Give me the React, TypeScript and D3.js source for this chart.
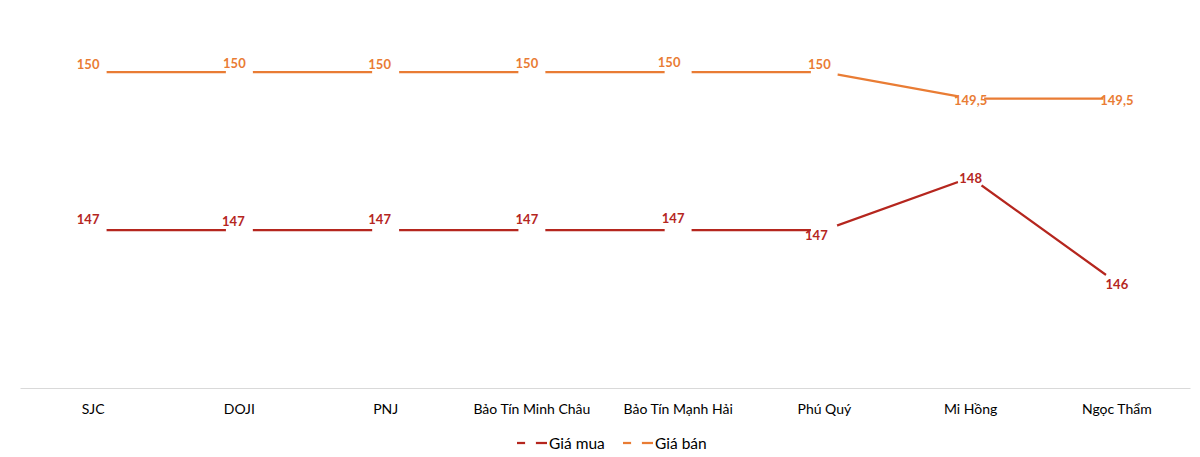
import React, { useEffect, useRef } from 'react';
import * as d3 from 'd3';

// Gold price by dealer (million VND / tael)
const categories = ['SJC', 'DOJI', 'PNJ', 'Bảo Tín Minh Châu', 'Bảo Tín Mạnh Hải', 'Phú Quý', 'Mi Hồng', 'Ngọc Thẩm'];
const buyPrices = [147, 147, 147, 147, 147, 147, 148, 146];
const sellPrices = [150, 150, 150, 150, 150, 150, 149.5, 149.5];
const seriesNames = ['Giá mua', 'Giá bán'];

// label nudges (px) relative to each point, as placed in the original
const buyLabelShift: [number, number][] = [[-5, -11], [-6, -9], [-6, -11], [-5, -11], [-5, -12], [-8, 5], [0, 1], [0, 1.5]];
const sellLabelShift: [number, number][] = [[-5, -8], [-5, -9], [-6, -8], [-5, -9], [-9, -10], [-5, -8], [0, 1], [0, 1]];

const WIDTH = 1200;
const HEIGHT = 457;
const FONT = 'Lato, "Noto Sans", sans-serif';

const App: React.FC = () => {
  const svgRef = useRef<SVGSVGElement>(null);

  useEffect(() => {
    if (!svgRef.current) return;
    const svg = d3.select(svgRef.current);
    svg.selectAll('*').remove();

    const x = d3.scaleBand().domain(categories).range([20, 1190]);
    const y = d3.scaleLinear().domain([144, 151]).range([388, 19.6]);
    const cx = (c: string) => x(c)! + x.bandwidth() / 2;
    const fmt = (v: number) => String(v).replace('.', ',');

    // X axis
    const axis = svg.append('g')
      .attr('transform', `translate(0,388)`)
      .call(d3.axisBottom(x).tickSize(0).tickSizeOuter(0));
    axis.select('.domain').attr('stroke', '#d9d9d9').attr('stroke-width', 1);
    axis.selectAll('text')
      .attr('dy', null)
      .attr('y', 20)
      .attr('dominant-baseline', 'central')
      .style('font-family', FONT)
      .style('font-size', '14px')
      .style('fill', '#000');

    const series = [
      { name: seriesNames[0], values: buyPrices, color: '#B5261E', shift: buyLabelShift },
      { name: seriesNames[1], values: sellPrices, color: '#E97C34', shift: sellLabelShift },
    ];

    const line = d3.line<number>()
      .x((_, i) => cx(categories[i]))
      .y(d => y(d));

    series.forEach(s => {
      const g = svg.append('g');
      g.append('path')
        .datum(s.values)
        .attr('d', line)
        .attr('fill', 'none')
        .attr('stroke', s.color)
        .attr('stroke-width', 2.25);
      // white markers leave gaps in the line around each point
      g.selectAll('circle')
        .data(s.values)
        .enter().append('circle')
        .attr('cx', (_, i) => cx(categories[i]))
        .attr('cy', d => y(d))
        .attr('r', 13.5)
        .attr('fill', '#fff');
    });

    series.forEach(s => {
      svg.append('g').selectAll('text')
        .data(s.values)
        .enter().append('text')
        .attr('x', (_, i) => cx(categories[i]) + s.shift[i][0])
        .attr('y', (d, i) => y(d) + s.shift[i][1])
        .attr('text-anchor', 'middle')
        .attr('dominant-baseline', 'central')
        .style('font-family', FONT)
        .style('font-size', '13px')
        .style('font-weight', 'bold')
        .style('fill', s.color)
        .text(d => fmt(d));
    });

    // Legend
    const legendX = [517, 623];
    series.forEach((s, i) => {
      const lg = svg.append('g').attr('transform', `translate(${legendX[i]},443)`);
      lg.append('line')
        .attr('x1', 0).attr('x2', 30)
        .attr('stroke', s.color)
        .attr('stroke-width', 2.25);
      lg.append('circle').attr('cx', 13.5).attr('r', 5.5).attr('fill', '#fff');
      lg.append('text')
        .attr('x', 32)
        .attr('dominant-baseline', 'central')
        .style('font-family', FONT)
        .style('font-size', '15.5px')
        .style('fill', '#000')
        .text(s.name);
    });
  }, []);

  return (
    <svg
      ref={svgRef}
      width={WIDTH}
      height={HEIGHT}
      style={{ position: 'absolute', left: 0, top: 0, background: '#fff' }}
    />
  );
};

export default App;
